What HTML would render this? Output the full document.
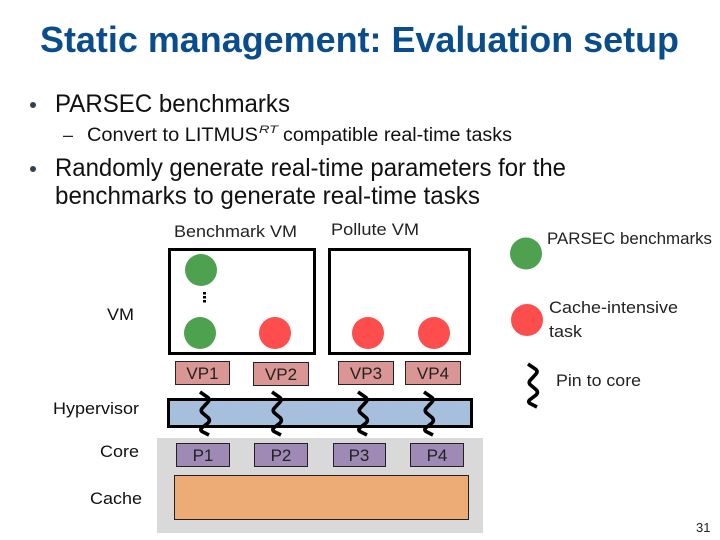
<!DOCTYPE html>
<html><head><meta charset="utf-8"><style>
html,body{margin:0;padding:0;background:#fff;width:720px;height:540px;overflow:hidden}
svg{display:block}
text{font-family:"Liberation Sans",sans-serif}
</style></head><body>
<svg width="720" height="540" viewBox="0 0 720 540" xmlns="http://www.w3.org/2000/svg">
<defs>
<path id="sq" d="M-5 -21 L3 -15.500 Q5 -13.500 3 -11 L-3 -4.500 Q-4.500 -2.500 -3 -0.500 L3.500 5 Q5.500 7.500 3 10 L-3.500 15 Q-5 17 -3 18.500 L4 22" fill="none" stroke="#000" stroke-width="3.600"/>
</defs>
<text x="40" y="52" font-size="36" font-weight="bold" fill="#0a4d8c" textLength="639" lengthAdjust="spacingAndGlyphs">Static management: Evaluation setup</text>
<circle cx="33" cy="105" r="3" fill="#333f4f"/>
<text x="55" y="112" font-size="25" fill="#111" textLength="235" lengthAdjust="spacingAndGlyphs">PARSEC benchmarks</text>
<text x="63" y="141" font-size="18" fill="#222">–</text>
<text x="87" y="141" font-size="19" fill="#111" textLength="171" lengthAdjust="spacingAndGlyphs">Convert to LITMUS</text>
<text x="259" y="133" font-size="11" font-style="italic" fill="#222" textLength="19" lengthAdjust="spacingAndGlyphs">RT</text>
<text x="283" y="141" font-size="19" fill="#111" textLength="229" lengthAdjust="spacingAndGlyphs">compatible real-time tasks</text>
<circle cx="33" cy="169" r="3" fill="#333f4f"/>
<text x="55" y="176" font-size="25" fill="#111" textLength="511" lengthAdjust="spacingAndGlyphs">Randomly generate real-time parameters for the</text>
<text x="55" y="204" font-size="25" fill="#111" textLength="425" lengthAdjust="spacingAndGlyphs">benchmarks to generate real-time tasks</text>

<text x="174" y="237" font-size="17" fill="#222" textLength="123" lengthAdjust="spacingAndGlyphs">Benchmark VM</text>
<text x="331" y="235" font-size="17" fill="#222" textLength="88" lengthAdjust="spacingAndGlyphs">Pollute VM</text>
<text x="547" y="244" font-size="17" fill="#222" textLength="165" lengthAdjust="spacingAndGlyphs">PARSEC benchmarks</text>
<text x="549" y="313" font-size="17" fill="#222" textLength="129" lengthAdjust="spacingAndGlyphs">Cache-intensive</text>
<text x="549" y="337" font-size="17" fill="#222" textLength="33" lengthAdjust="spacingAndGlyphs">task</text>
<text x="556" y="386" font-size="17" fill="#222" textLength="85" lengthAdjust="spacingAndGlyphs">Pin to core</text>

<rect x="169.500" y="249.500" width="145" height="104" fill="#fff" stroke="#000" stroke-width="3"/>
<rect x="329.500" y="249.500" width="140" height="104" fill="#fff" stroke="#000" stroke-width="3"/>
<circle cx="201" cy="270" r="16" fill="#4ea24f"/>
<circle cx="200" cy="333" r="16" fill="#4ea24f"/>
<circle cx="275" cy="333" r="16" fill="#fd4d4d"/>
<circle cx="368" cy="333" r="16" fill="#fd4d4d"/>
<circle cx="434" cy="333" r="16" fill="#fd4d4d"/>
<rect x="203" y="292" width="3" height="2.500" fill="#000"/>
<rect x="203" y="296" width="3" height="2.500" fill="#000"/>
<rect x="203" y="300" width="3" height="2.500" fill="#000"/>

<circle cx="526" cy="253.500" r="16" fill="#4ea24f"/>
<circle cx="527" cy="320" r="16" fill="#fd4d4d"/>

<text x="107" y="320" font-size="17" fill="#111" textLength="27" lengthAdjust="spacingAndGlyphs">VM</text>
<text x="53" y="414" font-size="17" fill="#111" textLength="86" lengthAdjust="spacingAndGlyphs">Hypervisor</text>
<text x="100" y="457" font-size="17" fill="#111" textLength="39" lengthAdjust="spacingAndGlyphs">Core</text>
<text x="90" y="504" font-size="17" fill="#111" textLength="52" lengthAdjust="spacingAndGlyphs">Cache</text>

<g stroke="#222" stroke-width="1" fill="#d99694">
<rect x="175.500" y="361.500" width="54" height="23"/>
<rect x="253.500" y="362.500" width="55" height="23"/>
<rect x="338.500" y="361.500" width="55" height="23"/>
<rect x="405.500" y="361.500" width="55" height="23"/>
</g>
<g font-size="17" fill="#222" text-anchor="middle">
<text x="202.500" y="379">VP1</text>
<text x="281" y="380">VP2</text>
<text x="366" y="379">VP3</text>
<text x="433" y="379">VP4</text>
</g>

<rect x="168.500" y="399.500" width="303" height="27" fill="#a6bfdd" stroke="#000" stroke-width="3"/>
<rect x="157" y="438" width="326" height="95" fill="#d9d9d9"/>
<g stroke="#222" stroke-width="1" fill="#9e8ab5">
<rect x="176.500" y="443.500" width="53" height="23"/>
<rect x="254.500" y="443.500" width="53" height="23"/>
<rect x="333.500" y="443.500" width="52" height="23"/>
<rect x="410.500" y="443.500" width="53" height="23"/>
</g>
<g font-size="17" fill="#222" text-anchor="middle">
<text x="203" y="461">P1</text>
<text x="281" y="461">P2</text>
<text x="359" y="461">P3</text>
<text x="437" y="461">P4</text>
</g>
<rect x="174.500" y="475.500" width="294" height="44" fill="#edac75" stroke="#222" stroke-width="1"/>

<use href="#sq" x="205" y="413"/>
<use href="#sq" x="277" y="413"/>
<use href="#sq" x="363" y="413"/>
<use href="#sq" x="429" y="413"/>
<use href="#sq" x="533" y="385"/>

<text x="696" y="532" font-size="13" fill="#222">31</text>
</svg>
</body></html>
